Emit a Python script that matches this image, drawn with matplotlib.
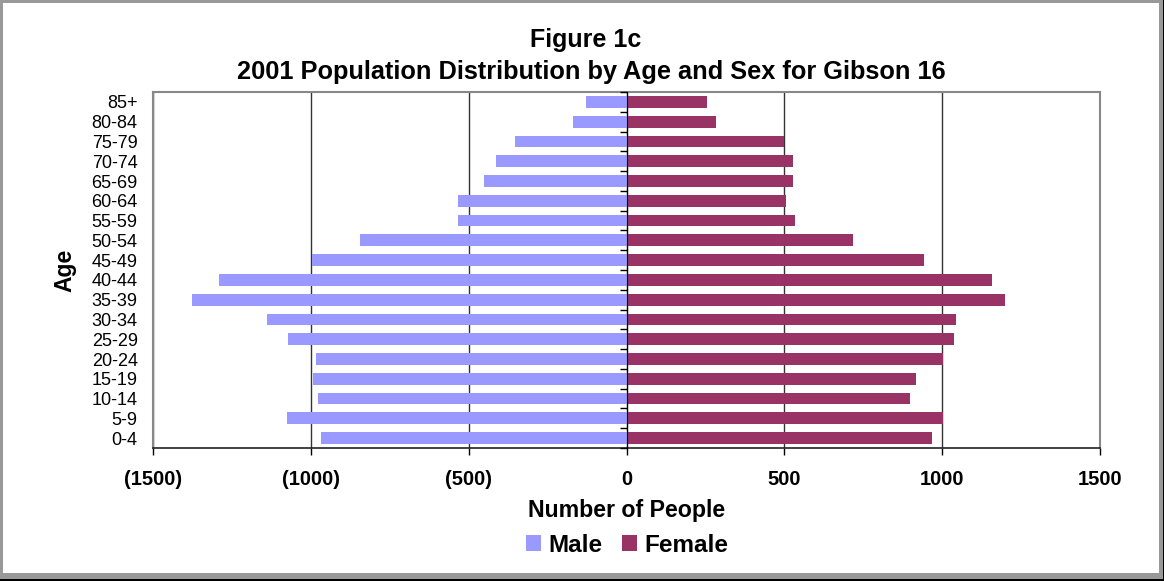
import matplotlib
matplotlib.use("Agg")
import matplotlib.pyplot as plt
from matplotlib.patches import Rectangle
from matplotlib.ticker import FuncFormatter, FixedLocator

plt.rcParams['font.family'] = ['Liberation Sans', 'DejaVu Sans']

age_groups = ["0-4", "5-9", "10-14", "15-19", "20-24", "25-29", "30-34", "35-39",
              "40-44", "45-49", "50-54", "55-59", "60-64", "65-69", "70-74",
              "75-79", "80-84", "85+"]
male = [967, 1075, 977, 993, 983, 1072, 1138, 1376, 1291, 997, 844, 533, 533,
        451, 413, 353, 169, 128]
female = [969, 1004, 897, 916, 1004, 1036, 1045, 1200, 1159, 944, 719, 533, 504,
          526, 526, 500, 283, 254]
x_ticks = [-1500, -1000, -500, 0, 500, 1000, 1500]

W, H = 1164, 581
fig = plt.figure(figsize=(W / 100, H / 100), dpi=100)
ax = fig.add_axes([153 / W, 1 - 448 / H, (1100 - 153) / W, (448 - 92) / H])

male_color = "#9999FF"
female_color = "#993366"
y = list(range(len(age_groups)))
ax.barh(y, [-m for m in male], height=0.59, color=male_color, label="Male", zorder=3)
ax.barh(y, female, height=0.59, color=female_color, label="Female", zorder=3)

ax.set_xlim(-1500, 1500)
ax.set_ylim(-0.5, len(age_groups) - 0.5)
ax.set_xticks(x_ticks)
ax.xaxis.set_major_formatter(FuncFormatter(lambda v, p: f"({abs(int(v))})" if v < 0 else f"{int(v)}"))
for lab in ax.get_xticklabels():
    lab.set_fontweight("bold")
ax.tick_params(axis="x", direction="out", length=5, width=1, color="black",
               labelsize=14.5, pad=11)
ax.set_yticks(y)
ax.set_yticklabels(age_groups)
ax.tick_params(axis="y", length=0, labelsize=13, pad=11)

ax.grid(axis="x", color="#333333", linewidth=1, zorder=1)
ax.set_axisbelow(True)
for s in ["top", "right", "left"]:
    ax.spines[s].set_color("#888888")
    ax.spines[s].set_linewidth(1.5)
ax.spines["bottom"].set_color("#222222")
ax.spines["bottom"].set_linewidth(1.2)

# vertical category axis at zero
sec = ax.secondary_yaxis(0.5)
sec.spines["left"].set_color("black")
sec.spines["left"].set_linewidth(1.2)
sec.yaxis.set_major_locator(FixedLocator([i - 0.5 for i in range(len(age_groups) + 1)]))
sec.set_yticklabels([])
sec.tick_params(axis="y", direction="in", length=5, width=1, color="black")
sec.set_zorder(4)

ax.set_xlabel("Number of People", fontsize=16.7, fontweight="bold", labelpad=7)
ax.set_ylabel("Age", fontsize=16.5, fontweight="bold", labelpad=11)

fig.text(586 / W, 1 - 39.5 / H, "Figure 1c", ha="center", va="center",
         fontsize=18, fontweight="bold")
fig.text(591 / W, 1 - 72.5 / H, "2001 Population Distribution by Age and Sex for Gibson 16",
         ha="center", va="center", fontsize=18.3, fontweight="bold")

fig.legend(loc="center", bbox_to_anchor=(627 / W, 1 - 545 / H), ncol=2, frameon=False,
           prop={"size": 17.5, "weight": "bold"}, handlelength=0.62, handleheight=0.62,
           handletextpad=0.3, columnspacing=0.8)

# chart border with shadow
fig.patches.append(Rectangle((0, 0), 1, 8 / H, transform=fig.transFigure,
                             facecolor="#999999", edgecolor="none", zorder=10))
fig.patches.append(Rectangle((0, 0), 1, 2 / H, transform=fig.transFigure,
                             facecolor="black", edgecolor="none", zorder=11))
fig.patches.append(Rectangle((1 - 5 / W, 0), 5 / W, 1, transform=fig.transFigure,
                             facecolor="#999999", edgecolor="none", zorder=10))
fig.patches.append(Rectangle((1 - 1 / W, 0), 1 / W, 1, transform=fig.transFigure,
                             facecolor="black", edgecolor="none", zorder=11))
fig.patches.append(Rectangle((0, 1 - 3 / H), 1, 3 / H, transform=fig.transFigure,
                             facecolor="#999999", edgecolor="none", zorder=10))
fig.patches.append(Rectangle((0, 0), 3 / W, 1, transform=fig.transFigure,
                             facecolor="#999999", edgecolor="none", zorder=10))

fig.savefig("out.png", dpi=100)
